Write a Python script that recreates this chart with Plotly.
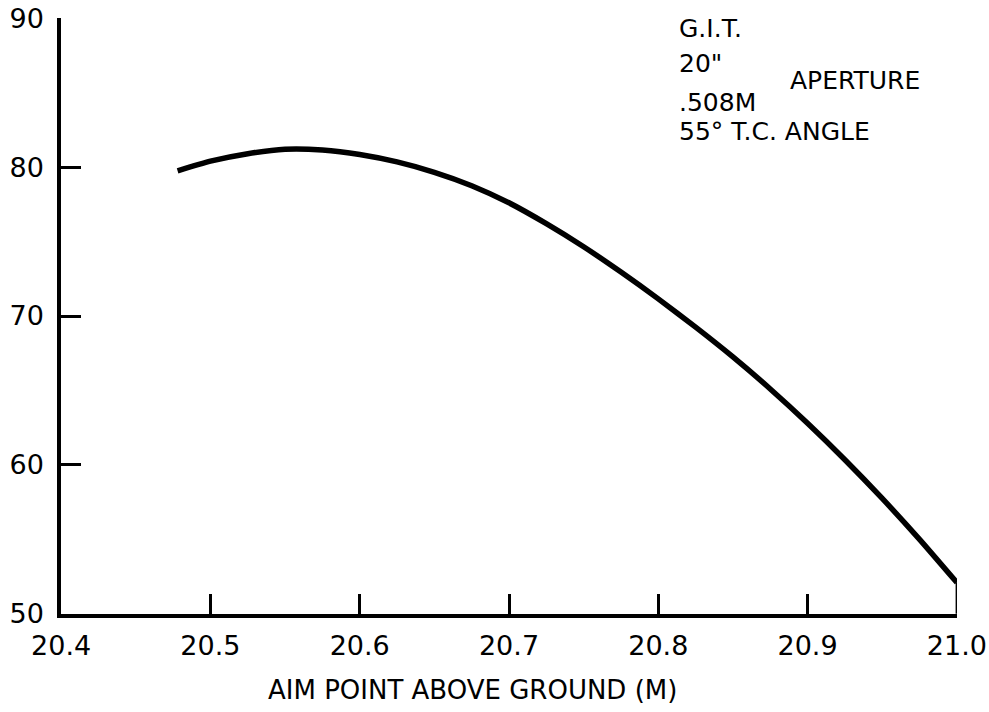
import plotly.graph_objects as go

# Data
aim_point = [20.478, 20.5, 20.525, 20.55, 20.575, 20.6, 20.625, 20.65, 20.675, 20.7, 20.725,
             20.75, 20.775, 20.8, 20.825, 20.85, 20.875, 20.9, 20.925, 20.95, 20.975, 21.0]
value = [79.75, 80.4, 80.9, 81.2, 81.15, 80.85, 80.35, 79.65, 78.75, 77.6, 76.2,
         74.65, 72.95, 71.15, 69.25, 67.25, 65.1, 62.8, 60.35, 57.75, 55.0, 52.1]

x_ticks = [20.4, 20.5, 20.6, 20.7, 20.8, 20.9, 21.0]
x_tick_text = ["20.4", "20.5", "20.6", "20.7", "20.8", "20.9", "21.0"]
y_ticks = [50, 60, 70, 80, 90]
y_tick_text = ["50", "60", "70", "80", "90"]

FONT = "DejaVu Sans"

fig = go.Figure()
fig.add_trace(go.Scatter(
    x=aim_point, y=value, mode="lines",
    line=dict(color="black", width=5.5, shape="spline", smoothing=0.6),
    cliponaxis=False, showlegend=False, hoverinfo="skip",
))

# vertical tick at 21.0 rising to curve end
fig.add_shape(type="line", x0=21.0, x1=21.0, y0=50, y1=value[-1],
              xref="x", yref="y", line=dict(color="black", width=2.5))

fig.update_xaxes(
    range=[20.3999, 21.0001], tickvals=x_ticks, ticktext=x_tick_text,
    ticks="inside", ticklen=20, tickwidth=2.5, tickcolor="black", automargin=False,
    ticklabelstandoff=5,
    showline=True, linecolor="black", linewidth=3.5, showgrid=False, zeroline=False,
    tickfont=dict(family=FONT, size=27, color="black"),
)
fig.update_yaxes(
    range=[49.99, 90.01], tickvals=y_ticks, ticktext=y_tick_text,
    ticks="inside", ticklen=20, tickwidth=3, tickcolor="black", automargin=False,
    ticklabelstandoff=8,
    showline=True, linecolor="black", linewidth=3.5, showgrid=False, zeroline=False,
    tickfont=dict(family=FONT, size=27, color="black"),
)

def px_x(p):
    return (p - 61) / (957 - 61)

def px_y(p):
    return (614 - p) / (614 - 18)

annots = [
    ("AIM POINT ABOVE GROUND (M)", 472, 690, "center", 26),
    ("G.I.T.", 677, 29, "left", 25),
    ("20\"", 677, 63, "left", 25),
    ("APERTURE", 788, 80, "left", 25),
    (".508M", 677, 102, "left", 25),
    ("55° T.C. ANGLE", 677, 131, "left", 25),
]
for text, xp, yp, anchor, size in annots:
    fig.add_annotation(
        text=text, x=px_x(xp), y=px_y(yp), xref="paper", yref="paper",
        xanchor=anchor, yanchor="middle", showarrow=False,
        font=dict(family=FONT, size=size, color="black"),
    )

fig.update_layout(
    width=989, height=712,
    margin=dict(l=61, r=32, t=18, b=98),
    paper_bgcolor="white", plot_bgcolor="white",
)

fig.write_html("out.html")
